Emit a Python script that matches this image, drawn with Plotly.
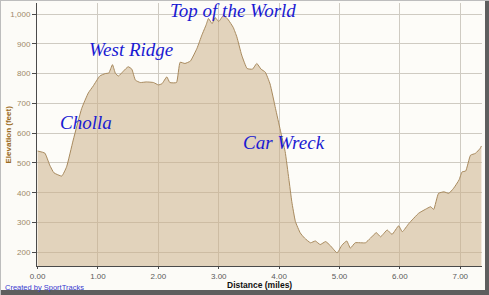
import plotly.graph_objects as go

distance_mi = [0.00, 0.12, 0.20, 0.27, 0.40, 0.48, 0.59, 0.73, 0.84, 0.92, 1.03, 1.12, 1.18, 1.24,
               1.29, 1.34, 1.42, 1.50, 1.56, 1.62, 1.70, 1.80, 1.92, 2.00, 2.06, 2.14, 2.19, 2.30,
               2.36, 2.44, 2.53, 2.64, 2.72, 2.79, 2.83, 2.89, 2.94, 3.00, 3.08, 3.16, 3.24, 3.30,
               3.38, 3.47, 3.56, 3.63, 3.70, 3.77, 3.85, 3.94, 4.02, 4.10, 4.16, 4.21, 4.27, 4.35,
               4.42, 4.52, 4.60, 4.68, 4.77, 4.85, 4.96, 5.04, 5.12, 5.18, 5.26, 5.43, 5.51, 5.61,
               5.68, 5.79, 5.87, 5.98, 6.04, 6.15, 6.31, 6.42, 6.51, 6.56, 6.64, 6.73, 6.81, 6.89,
               6.98, 7.03, 7.09, 7.17, 7.25, 7.33, 7.35]
elevation_ft = [540, 533, 493, 467, 456, 487, 577, 683, 735, 758, 792, 800, 802, 830,
                800, 792, 808, 823, 815, 778, 770, 772, 770, 762, 766, 789, 770, 770,
                838, 834, 842, 885, 929, 963, 985, 968, 988, 975, 996, 980, 955, 923,
                862, 817, 815, 834, 815, 805, 765, 683, 610, 538, 448, 370, 303, 265,
                248, 232, 238, 226, 236, 222, 198, 224, 238, 214, 232, 232, 247, 266,
                252, 275, 260, 289, 269, 297, 331, 344, 353, 344, 398, 403, 398, 415,
                443, 470, 473, 526, 532, 549, 557]

x_ticks = [0, 1, 2, 3, 4, 5, 6, 7]
y_ticks = [200, 300, 400, 500, 600, 700, 800, 900, 1000]
y_tick_labels = ["200", "300", "400", "500", "600", "700", "800", "900", "1,000"]

labels = ["Top of the World", "West Ridge", "Cholla", "Car Wreck"]
label_x = [3.23, 1.55, 0.795, 4.075]
label_y = [1012, 882, 636, 569]

W, H = 489, 295
ML, MR, MT, MB = 37, 7, 3, 29
PW, PH = W - ML - MR, H - MT - MB


def px(xp):
    return (xp - ML) / PW


def py(yp):
    return (H - MB - yp) / PH


fig = go.Figure()
fig.add_trace(go.Scatter(
    x=distance_mi, y=elevation_ft, mode="lines",
    line=dict(color="#A88A5E", width=1, shape="spline", smoothing=0.4),
    fill="tozeroy", fillcolor="rgba(204,177,138,0.55)",
    hoverinfo="skip", showlegend=False,
))

for t, xv, yv in zip(labels, label_x, label_y):
    fig.add_annotation(x=xv, y=yv, xref="x", yref="y", text="<i>" + t + "</i>", showarrow=False,
                       font=dict(family="Liberation Serif", size=19, color="#1A1AD2"),
                       xanchor="center", yanchor="middle")

fig.add_annotation(x=px(8), y=0.5, xref="paper", yref="paper", text="<b>Elevation (feet)</b>",
                   textangle=-90, showarrow=False,
                   font=dict(family="Liberation Sans", size=8, color="#9A6A20"),
                   xanchor="center", yanchor="middle")
fig.add_annotation(x=0.5, y=py(284.5), xref="paper", yref="paper", text="<b>Distance (miles)</b>",
                   showarrow=False, font=dict(family="Liberation Sans", size=8.5, color="#111111"),
                   xanchor="center", yanchor="middle")
fig.add_annotation(x=px(3), y=py(287), xref="paper", yref="paper", text="Created by SportTracks",
                   showarrow=False, font=dict(family="Liberation Sans", size=7.5, color="#3A3AD0"),
                   xanchor="left", yanchor="middle")

# outer frame
fig.add_shape(type="rect", xref="paper", yref="paper", x0=px(0), x1=px(489), y0=py(0), y1=py(1),
              fillcolor="#BDBDBD", line_width=0, layer="below")
fig.add_shape(type="rect", xref="paper", yref="paper", x0=px(0), x1=px(1), y0=py(0), y1=py(295),
              fillcolor="#BDBDBD", line_width=0, layer="below")
fig.add_shape(type="rect", xref="paper", yref="paper", x0=px(485), x1=px(489), y0=py(1), y1=py(295),
              fillcolor="#5E5E5E", line_width=0, layer="below")
fig.add_shape(type="rect", xref="paper", yref="paper", x0=px(1), x1=px(489), y0=py(290), y1=py(295),
              fillcolor="#5E5E5E", line_width=0, layer="below")

fig.update_layout(
    width=W, height=H,
    margin=dict(l=ML, r=MR, t=MT, b=MB, pad=0),
    paper_bgcolor="#FCFBF7", plot_bgcolor="#FDFCF8",
    font=dict(family="Liberation Sans", size=8),
    xaxis=dict(range=[-0.01, 7.36], tickvals=x_ticks, tickformat=".2f",
               showgrid=True, gridcolor="#CFCBC2", gridwidth=1, zeroline=False,
               showline=True, linecolor="#4A4A4A", linewidth=1,
               ticks="outside", ticklen=2, tickcolor="#4A4A4A",
               tickfont=dict(size=8, color="#5A5A5A")),
    yaxis=dict(range=[154, 1037], tickvals=y_ticks, ticktext=y_tick_labels,
               showgrid=True, gridcolor="#CFCBC2", gridwidth=1, zeroline=False,
               showline=True, linecolor="#4A4A4A", linewidth=1,
               ticks="outside", ticklen=4, tickcolor="#4A4A4A",
               tickfont=dict(size=8, color="#9E8A68")),
)

fig.write_html("out.html")
